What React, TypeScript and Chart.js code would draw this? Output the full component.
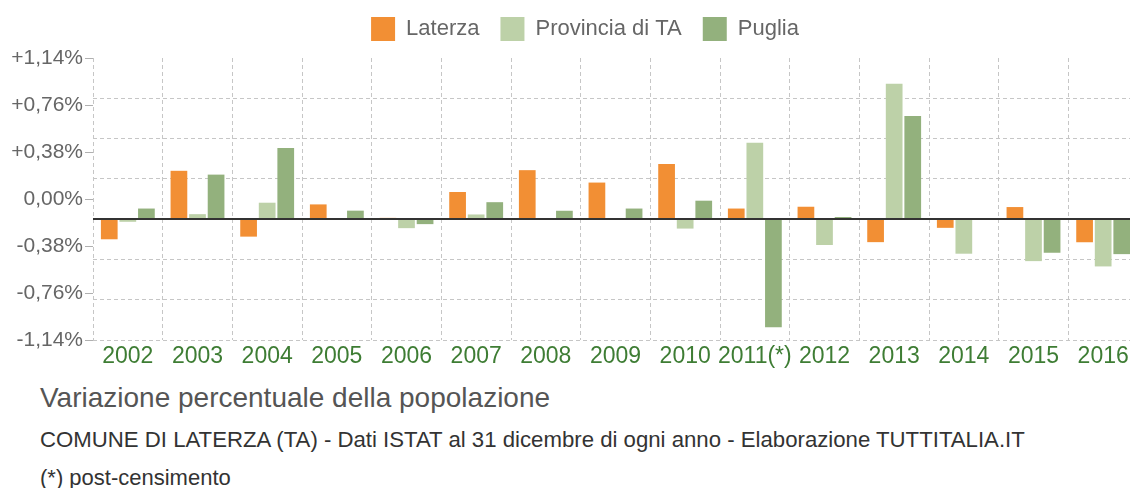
import React, { useEffect, useRef } from "react";
import { Chart, registerables } from "chart.js";

Chart.register(...registerables);

const years = ["2002", "2003", "2004", "2005", "2006", "2007", "2008", "2009", "2010", "2011(*)", "2012", "2013", "2014", "2015", "2016"];
const laterza = [-0.19, 0.456, -0.165, 0.139, 0.012, 0.256, 0.462, 0.345, 0.52, 0.1, 0.117, -0.217, -0.082, 0.114, -0.218];
const provinciaTA = [-0.025, 0.047, 0.155, 0.01, -0.085, 0.044, 0, 0, -0.089, 0.72, -0.244, 1.276, -0.326, -0.396, -0.446];
const puglia = [0.1, 0.42, 0.67, 0.08, -0.047, 0.16, 0.079, 0.1, 0.174, -1.02, 0.02, 0.972, 0, -0.317, -0.33];

const yTickValues = [1.14, 0.76, 0.38, 0, -0.38, -0.76, -1.14];
const yTickLabels = ["+1,14%", "+0,76%", "+0,38%", "0,00%", "-0,38%", "-0,76%", "-1,14%"];
const gridValues = [-1.14, -0.76, -0.38, 0, 0.38, 0.76, 1.14, 1.52];

const FONT = "'Liberation Sans', Arial, Helvetica, sans-serif";
const ORANGE = "#F28F34";
const LIGHT_GREEN = "#BDD1A8";
const DARK_GREEN = "#93B17D";
const GRID = "#c6c6c6";
const XLABEL = "#3e7d34";

const legendTweak = {
  id: "legendTweak",
  afterInit(chart: any) {
    const legend = chart.legend;
    if (!legend) return;
    const origFit = legend.fit;
    legend.fit = function () {
      origFit.call(this);
      this.height = 58;
    };
  },
  afterLayout(chart: any) {
    const l = chart.legend;
    if (!l) return;
    l.top -= 4;
    l.bottom -= 4;
    l.left += 16;
    l.right += 16;
  },
};

const zeroLine = {
  id: "zeroLine",
  afterDatasetsDraw(chart: any) {
    const y = chart.scales.y;
    const area = chart.chartArea;
    const py = Math.round(y.getPixelForValue(0));
    const ctx = chart.ctx;
    ctx.save();
    ctx.strokeStyle = "#333";
    ctx.lineWidth = 2;
    ctx.beginPath();
    ctx.moveTo(area.left, py);
    ctx.lineTo(area.right, py);
    ctx.stroke();
    ctx.restore();
  },
};

export default function App() {
  const ref = useRef<HTMLCanvasElement | null>(null);

  useEffect(() => {
    if (!ref.current) return;
    Chart.defaults.font.family = FONT;
    const chart = new Chart(ref.current, {
      type: "bar",
      data: {
        labels: years,
        datasets: [
          { label: "Laterza", data: laterza, backgroundColor: ORANGE, yAxisID: "y" },
          { label: "Provincia di TA", data: provinciaTA, backgroundColor: LIGHT_GREEN, yAxisID: "y" },
          { label: "Puglia", data: puglia, backgroundColor: DARK_GREEN, yAxisID: "y" },
        ],
      },
      options: {
        responsive: false,
        animation: false,
        layout: { padding: { left: 0, right: 12, top: 0, bottom: 0 } },
        datasets: { bar: { categoryPercentage: 0.8, barPercentage: 0.9 } },
        plugins: {
          legend: {
            position: "top",
            labels: {
              boxWidth: 24,
              boxHeight: 24,
              padding: 21,
              color: "#666",
              font: { size: 22, family: FONT },
            },
          },
          tooltip: { enabled: false },
        },
        scales: {
          x: {
            grid: { color: GRID, drawTicks: false, offset: true, lineWidth: 1 },
            border: { display: false, dash: [4, 3] },
            ticks: {
              autoSkip: false,
              maxRotation: 0,
              minRotation: 0,
              color: XLABEL,
              font: { size: 23, family: FONT },
              padding: 3,
            },
            afterFit: (s: any) => {
              s.height = 40;
            },
          },
          y: {
            position: "left",
            min: -1.14,
            max: 1.52,
            afterBuildTicks: (s: any) => {
              s.ticks = gridValues.map((v) => ({ value: v }));
            },
            ticks: { display: false },
            grid: {
              drawTicks: false,
              color: (ctx: any) => {
                const v = ctx.tick ? ctx.tick.value : 0;
                if (Math.abs(v - 1.52) < 1e-6) return "rgba(0,0,0,0)";
                if (Math.abs(v) < 1e-6) return "rgba(0,0,0,0)";
                return GRID;
              },
              lineWidth: 1,
            },
            border: { display: false, dash: [4, 3] },
            afterFit: (s: any) => {
              s.width = 0;
            },
          },
          yLab: {
            position: "left",
            min: -1.14,
            max: 1.14,
            afterBuildTicks: (s: any) => {
              s.ticks = yTickValues.slice().reverse().map((v) => ({ value: v }));
            },
            ticks: {
              color: "#666",
              font: { size: 21, family: FONT },
              padding: 2,
              callback: (value: any) => {
                const i = yTickValues.findIndex((v) => Math.abs(v - Number(value)) < 1e-6);
                return i >= 0 ? yTickLabels[i] : "";
              },
            },
            grid: { drawOnChartArea: false, drawTicks: true, tickLength: 8, tickColor: "#b0b0b0" },
            border: { display: false },
            afterFit: (s: any) => {
              s.width = 93;
            },
          },
        },
      },
      plugins: [legendTweak, zeroLine],
    } as any);
    return () => chart.destroy();
  }, []);

  return (
    <div
      style={{
        position: "absolute",
        left: 0,
        top: 0,
        width: 1130,
        height: 488,
        overflow: "hidden",
        background: "#fff",
        fontFamily: FONT,
      }}
    >
      <canvas ref={ref} width={1150} height={380} style={{ display: "block" }} />
      <div style={{ position: "absolute", left: 40, top: 384, fontSize: 28, lineHeight: "28px", color: "#555", whiteSpace: "nowrap" }}>
        Variazione percentuale della popolazione
      </div>
      <div style={{ position: "absolute", left: 40, top: 429, fontSize: 22.2, lineHeight: "22px", color: "#333", whiteSpace: "nowrap" }}>
        COMUNE DI LATERZA (TA) - Dati ISTAT al 31 dicembre di ogni anno - Elaborazione TUTTITALIA.IT
      </div>
      <div style={{ position: "absolute", left: 40, top: 467, fontSize: 22, lineHeight: "22px", color: "#333", whiteSpace: "nowrap" }}>
        (*) post-censimento
      </div>
    </div>
  );
}
